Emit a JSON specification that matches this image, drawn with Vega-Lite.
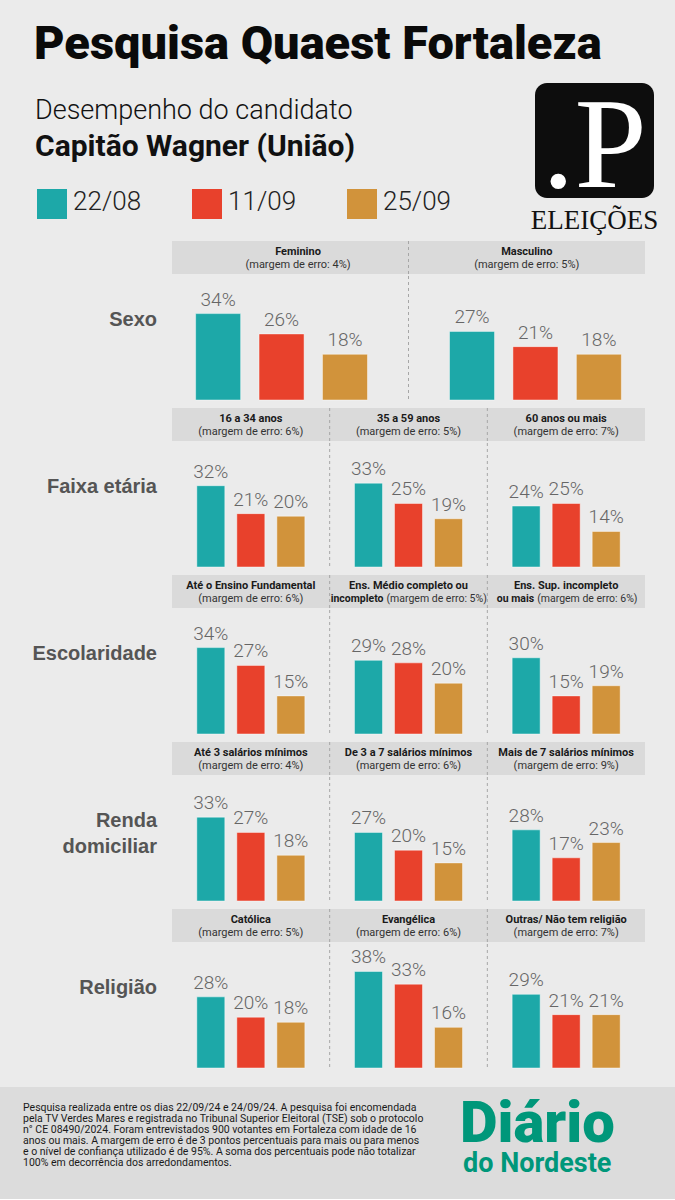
{
  "$schema": "https://vega.github.io/schema/vega-lite/v6.json",
  "background": "#ebebeb",
  "padding": {"left": 0, "top": 21, "right": 0, "bottom": 0},
  "config": {"view": {"stroke": null}, "font": "Roboto", "text": {"font": "Roboto"}},
  "title": {"text": "Pesquisa Quaest Fortaleza", "anchor": "start", "dx": 34, "fontSize": 47, "fontWeight": 900, "font": "Roboto", "color": "#0a0a0a", "offset": 14},
  "resolve": {"scale": {"xOffset": "independent"}},
  "datasets": {
    "legend": [{"data": "22/08"}, {"data": "11/09"}, {"data": "25/09"}],
    "brand": [{"logo": ".P", "nota": "Pesquisa realizada entre os dias 22/09/24 e 24/09/24. A pesquisa foi encomendada\npela TV Verdes Mares e registrada no Tribunal Superior Eleitoral (TSE) sob o protocolo\nn° CE 08490/2024. Foram entrevistados 900 votantes em Fortaleza com idade de 16\nanos ou mais. A margem de erro é de 3 pontos percentuais para mais ou para menos\ne o nível de confiança utilizado é de 95%. A soma dos percentuais pode não totalizar\n100% em decorrência dos arredondamentos.", "jornal": "Diário", "jornal2": "do Nordeste"}],
    "rows": [
      {"cat": "Sexo", "rot": "Sexo"},
      {"cat": "Faixa etária", "rot": "Faixa etária"},
      {"cat": "Escolaridade", "rot": "Escolaridade"},
      {"cat": "Renda domiciliar", "rot": "Renda\ndomiciliar"},
      {"cat": "Religião", "rot": "Religião"}
    ],
    "heads": [
      {"cat": "Sexo", "grp": "Feminino", "i": 0, "t1": "Feminino", "t2b": "", "t2": "(margem de erro: 4%)"},
      {"cat": "Sexo", "grp": "Masculino", "i": 1, "t1": "Masculino", "t2b": "", "t2": "(margem de erro: 5%)"},
      {"cat": "Faixa etária", "grp": "16 a 34 anos", "i": 0, "t1": "16 a 34 anos", "t2b": "", "t2": "(margem de erro: 6%)"},
      {"cat": "Faixa etária", "grp": "35 a 59 anos", "i": 1, "t1": "35 a 59 anos", "t2b": "", "t2": "(margem de erro: 5%)"},
      {"cat": "Faixa etária", "grp": "60 anos ou mais", "i": 2, "t1": "60 anos ou mais", "t2b": "", "t2": "(margem de erro: 7%)"},
      {"cat": "Escolaridade", "grp": "Até o Ensino Fundamental", "i": 0, "t1": "Até o Ensino Fundamental", "t2b": "", "t2": "(margem de erro: 6%)"},
      {"cat": "Escolaridade", "grp": "Ens. Médio completo ou incompleto", "i": 1, "t1": "Ens. Médio completo ou", "t2b": "incompleto", "t2": "(margem de erro: 5%)"},
      {"cat": "Escolaridade", "grp": "Ens. Sup. incompleto ou mais", "i": 2, "t1": "Ens. Sup. incompleto", "t2b": "ou mais", "t2": "(margem de erro: 6%)"},
      {"cat": "Renda domiciliar", "grp": "Até 3 salários mínimos", "i": 0, "t1": "Até 3 salários mínimos", "t2b": "", "t2": "(margem de erro: 4%)"},
      {"cat": "Renda domiciliar", "grp": "De 3 a 7 salários mínimos", "i": 1, "t1": "De 3 a 7 salários mínimos", "t2b": "", "t2": "(margem de erro: 6%)"},
      {"cat": "Renda domiciliar", "grp": "Mais de 7 salários mínimos", "i": 2, "t1": "Mais de 7 salários mínimos", "t2b": "", "t2": "(margem de erro: 9%)"},
      {"cat": "Religião", "grp": "Católica", "i": 0, "t1": "Católica", "t2b": "", "t2": "(margem de erro: 5%)"},
      {"cat": "Religião", "grp": "Evangélica", "i": 1, "t1": "Evangélica", "t2b": "", "t2": "(margem de erro: 6%)"},
      {"cat": "Religião", "grp": "Outras/ Não tem religião", "i": 2, "t1": "Outras/ Não tem religião", "t2b": "", "t2": "(margem de erro: 7%)"}
    ],
    "bars": [
      {"cat": "Sexo", "grp": "Feminino", "data": "22/08", "v": 0.34},
      {"cat": "Sexo", "grp": "Feminino", "data": "11/09", "v": 0.26},
      {"cat": "Sexo", "grp": "Feminino", "data": "25/09", "v": 0.18},
      {"cat": "Sexo", "grp": "Masculino", "data": "22/08", "v": 0.27},
      {"cat": "Sexo", "grp": "Masculino", "data": "11/09", "v": 0.21},
      {"cat": "Sexo", "grp": "Masculino", "data": "25/09", "v": 0.18},
      {"cat": "Faixa etária", "grp": "16 a 34 anos", "data": "22/08", "v": 0.32},
      {"cat": "Faixa etária", "grp": "16 a 34 anos", "data": "11/09", "v": 0.21},
      {"cat": "Faixa etária", "grp": "16 a 34 anos", "data": "25/09", "v": 0.20},
      {"cat": "Faixa etária", "grp": "35 a 59 anos", "data": "22/08", "v": 0.33},
      {"cat": "Faixa etária", "grp": "35 a 59 anos", "data": "11/09", "v": 0.25},
      {"cat": "Faixa etária", "grp": "35 a 59 anos", "data": "25/09", "v": 0.19},
      {"cat": "Faixa etária", "grp": "60 anos ou mais", "data": "22/08", "v": 0.24},
      {"cat": "Faixa etária", "grp": "60 anos ou mais", "data": "11/09", "v": 0.25},
      {"cat": "Faixa etária", "grp": "60 anos ou mais", "data": "25/09", "v": 0.14},
      {"cat": "Escolaridade", "grp": "Até o Ensino Fundamental", "data": "22/08", "v": 0.34},
      {"cat": "Escolaridade", "grp": "Até o Ensino Fundamental", "data": "11/09", "v": 0.27},
      {"cat": "Escolaridade", "grp": "Até o Ensino Fundamental", "data": "25/09", "v": 0.15},
      {"cat": "Escolaridade", "grp": "Ens. Médio completo ou incompleto", "data": "22/08", "v": 0.29},
      {"cat": "Escolaridade", "grp": "Ens. Médio completo ou incompleto", "data": "11/09", "v": 0.28},
      {"cat": "Escolaridade", "grp": "Ens. Médio completo ou incompleto", "data": "25/09", "v": 0.20},
      {"cat": "Escolaridade", "grp": "Ens. Sup. incompleto ou mais", "data": "22/08", "v": 0.30},
      {"cat": "Escolaridade", "grp": "Ens. Sup. incompleto ou mais", "data": "11/09", "v": 0.15},
      {"cat": "Escolaridade", "grp": "Ens. Sup. incompleto ou mais", "data": "25/09", "v": 0.19},
      {"cat": "Renda domiciliar", "grp": "Até 3 salários mínimos", "data": "22/08", "v": 0.33},
      {"cat": "Renda domiciliar", "grp": "Até 3 salários mínimos", "data": "11/09", "v": 0.27},
      {"cat": "Renda domiciliar", "grp": "Até 3 salários mínimos", "data": "25/09", "v": 0.18},
      {"cat": "Renda domiciliar", "grp": "De 3 a 7 salários mínimos", "data": "22/08", "v": 0.27},
      {"cat": "Renda domiciliar", "grp": "De 3 a 7 salários mínimos", "data": "11/09", "v": 0.20},
      {"cat": "Renda domiciliar", "grp": "De 3 a 7 salários mínimos", "data": "25/09", "v": 0.15},
      {"cat": "Renda domiciliar", "grp": "Mais de 7 salários mínimos", "data": "22/08", "v": 0.28},
      {"cat": "Renda domiciliar", "grp": "Mais de 7 salários mínimos", "data": "11/09", "v": 0.17},
      {"cat": "Renda domiciliar", "grp": "Mais de 7 salários mínimos", "data": "25/09", "v": 0.23},
      {"cat": "Religião", "grp": "Católica", "data": "22/08", "v": 0.28},
      {"cat": "Religião", "grp": "Católica", "data": "11/09", "v": 0.20},
      {"cat": "Religião", "grp": "Católica", "data": "25/09", "v": 0.18},
      {"cat": "Religião", "grp": "Evangélica", "data": "22/08", "v": 0.38},
      {"cat": "Religião", "grp": "Evangélica", "data": "11/09", "v": 0.33},
      {"cat": "Religião", "grp": "Evangélica", "data": "25/09", "v": 0.16},
      {"cat": "Religião", "grp": "Outras/ Não tem religião", "data": "22/08", "v": 0.29},
      {"cat": "Religião", "grp": "Outras/ Não tem religião", "data": "11/09", "v": 0.21},
      {"cat": "Religião", "grp": "Outras/ Não tem religião", "data": "25/09", "v": 0.21}
    ]
  },
  "spacing": 6,
  "vconcat": [
    {
      "hconcat": [
        {
          "width": 414, "height": 136,
          "title": {"text": "Desempenho do candidato", "subtitle": "Capitão Wagner (União)", "anchor": "start", "dx": 35, "font": "Roboto", "fontSize": 27, "fontWeight": 300, "color": "#111111", "subtitleFont": "Roboto", "subtitleFontSize": 30, "subtitleFontWeight": "bold", "subtitleColor": "#111111", "subtitlePadding": 7, "offset": -80},
          "data": {"name": "legend"},
          "layer": [
            {"mark": {"type": "square", "size": 900, "opacity": 1, "y": "height", "yOffset": -15},
             "encoding": {"x": {"field": "data", "type": "nominal", "axis": null, "scale": {"type": "band", "domain": ["22/08", "11/09", "25/09"], "paddingInner": 0.806, "paddingOuter": 0.2387}},
                          "color": {"field": "data", "type": "nominal", "scale": {"domain": ["22/08", "11/09", "25/09"], "range": ["#1da8a8", "#e8412c", "#d1933b"]}, "legend": null}}},
            {"mark": {"type": "text", "align": "left", "baseline": "middle", "dx": 6, "y": "height", "yOffset": -17, "fontSize": 26, "fontWeight": 300, "color": "#222222"},
             "encoding": {"x": {"field": "data", "type": "nominal", "axis": null, "bandPosition": 1, "scale": {"type": "band", "domain": ["22/08", "11/09", "25/09"], "paddingInner": 0.806, "paddingOuter": 0.2387}},
                          "text": {"field": "data"}}}
          ]
        },
        {
          "width": 119, "height": 115,
          "view": {"fill": "#0d0d0d", "cornerRadius": 12, "stroke": null},
          "title": {"text": "ELEIÇÕES", "orient": "bottom", "anchor": "middle", "font": "Liberation Serif", "fontSize": 27, "fontWeight": "normal", "color": "#111111", "offset": -5},
          "data": {"name": "brand"},
          "mark": {"type": "text", "font": "Liberation Serif", "fontSize": 130, "color": "#ffffff", "align": "center", "baseline": "alphabetic", "y": "height", "dy": -11},
          "encoding": {"text": {"field": "logo"}}
        }
      ],
      "spacing": 78
    },
    {
      "hconcat": [
        {
          "width": 157, "height": 157,
          "data": {"name": "rows"},
          "transform": [{"filter": "datum.cat == 'Sexo'"}],
          "mark": {"type": "text", "x": "width", "align": "right", "baseline": "middle", "lineBreak": "\n", "lineHeight": 26, "font": "Liberation Sans", "fontWeight": "bold", "fontSize": 20, "color": "#555555"},
          "encoding": {"text": {"field": "rot"}}
        },
        {
          "spacing": 0,
          "vconcat": [
            {
              "width": 473, "height": 33,
              "view": {"fill": "#dadada", "stroke": null},
              "data": {"name": "heads"},
              "transform": [{"filter": "datum.cat == 'Sexo'"}],
              "resolve": {"scale": {"x": "independent"}},
              "layer": [
                {"mark": {"type": "rule", "strokeDash": [3, 3], "color": "#a6a6a6"},
                 "encoding": {"x": {"field": "grp", "type": "nominal", "axis": null, "bandPosition": 0, "scale": {"type": "band", "domain": ["Feminino", "Masculino"], "paddingInner": 0, "paddingOuter": 0}},
                              "opacity": {"condition": {"test": "datum.i == 0", "value": 0}, "value": 1}}},
                {"encoding": {"x": {"field": "grp", "type": "nominal", "axis": null, "scale": {"type": "band", "domain": ["Feminino", "Masculino"], "paddingInner": 0, "paddingOuter": 0.034, "align": 0.75}}},
                 "layer": [
                   {"mark": {"type": "text", "fontSize": 11, "fontWeight": "bold", "baseline": "alphabetic", "dy": -3, "color": "#1a1a1a"},
                    "encoding": {"text": {"field": "t1"}}},
                   {"mark": {"type": "text", "fontSize": 11, "baseline": "alphabetic", "dy": 10, "color": "#333333"},
                    "encoding": {"text": {"field": "t2"}}}
                 ]}
              ]
            },
            {
              "width": 473, "height": 124,
              "resolve": {"scale": {"x": "independent"}},
              "layer": [
                {"data": {"name": "heads"},
                 "transform": [{"filter": "datum.cat == 'Sexo'"}],
                 "mark": {"type": "rule", "strokeDash": [3, 3], "color": "#a6a6a6"},
                 "encoding": {"x": {"field": "grp", "type": "nominal", "axis": null, "bandPosition": 0, "scale": {"type": "band", "domain": ["Feminino", "Masculino"], "paddingInner": 0, "paddingOuter": 0}},
                              "opacity": {"condition": {"test": "datum.i == 0", "value": 0}, "value": 1}}},
                {"data": {"name": "bars"},
                 "transform": [{"filter": "datum.cat == 'Sexo'"}],
                 "encoding": {
                   "x": {"field": "grp", "type": "nominal", "axis": null, "scale": {"type": "band", "domain": ["Feminino", "Masculino"], "paddingInner": 0.323, "paddingOuter": 0.093}},
                   "xOffset": {"field": "data", "type": "nominal", "scale": {"domain": ["22/08", "11/09", "25/09"], "paddingInner": 0.29, "paddingOuter": 0}},
                   "y": {"field": "v", "type": "quantitative", "axis": null, "scale": {"domain": [0, 0.488], "nice": false, "zero": true}},
                   "color": {"field": "data", "type": "nominal", "scale": {"domain": ["22/08", "11/09", "25/09"], "range": ["#1da8a8", "#e8412c", "#d1933b"]}, "legend": null}
                 },
                 "layer": [
                   {"mark": {"type": "bar", "stroke": "#ffffff", "strokeOpacity": 0.45, "strokeWidth": 1}},
                   {"mark": {"type": "text", "baseline": "alphabetic", "dy": -8, "fontSize": 19, "fontWeight": 300},
                    "encoding": {"text": {"field": "v", "format": ".0%"}, "color": {"value": "#666666"}}}
                 ]}
              ]
            }
          ]
        }
      ],
      "spacing": 15
    },
    {
      "hconcat": [
        {
          "width": 157, "height": 157,
          "data": {"name": "rows"},
          "transform": [{"filter": "datum.cat == 'Faixa etária'"}],
          "mark": {"type": "text", "x": "width", "align": "right", "baseline": "middle", "lineBreak": "\n", "lineHeight": 26, "font": "Liberation Sans", "fontWeight": "bold", "fontSize": 20, "color": "#555555"},
          "encoding": {"text": {"field": "rot"}}
        },
        {
          "spacing": 0,
          "vconcat": [
            {
              "width": 473, "height": 33,
              "view": {"fill": "#dadada", "stroke": null},
              "data": {"name": "heads"},
              "transform": [{"filter": "datum.cat == 'Faixa etária'"}],
              "layer": [
                {"mark": {"type": "rule", "strokeDash": [3, 3], "color": "#a6a6a6"},
                 "encoding": {"x": {"field": "grp", "type": "nominal", "axis": null, "bandPosition": 0, "scale": {"type": "band", "domain": ["16 a 34 anos", "35 a 59 anos", "60 anos ou mais"], "paddingInner": 0, "paddingOuter": 0}},
                              "opacity": {"condition": {"test": "datum.i == 0", "value": 0}, "value": 1}}},
                {"mark": {"type": "text", "fontSize": 11, "fontWeight": "bold", "baseline": "alphabetic", "dy": -3, "color": "#1a1a1a"},
                 "encoding": {"x": {"field": "grp", "type": "nominal", "axis": null, "scale": {"type": "band", "domain": ["16 a 34 anos", "35 a 59 anos", "60 anos ou mais"], "paddingInner": 0, "paddingOuter": 0}}, "text": {"field": "t1"}}},
                {"mark": {"type": "text", "fontSize": 11, "baseline": "alphabetic", "dy": 10, "color": "#333333"},
                 "encoding": {"x": {"field": "grp", "type": "nominal", "axis": null, "scale": {"type": "band", "domain": ["16 a 34 anos", "35 a 59 anos", "60 anos ou mais"], "paddingInner": 0, "paddingOuter": 0}}, "text": {"field": "t2"}}}
              ]
            },
            {
              "width": 473, "height": 124,
              "layer": [
                {"data": {"name": "heads"},
                 "transform": [{"filter": "datum.cat == 'Faixa etária'"}],
                 "mark": {"type": "rule", "strokeDash": [3, 3], "color": "#a6a6a6"},
                 "encoding": {"x": {"field": "grp", "type": "nominal", "axis": null, "bandPosition": 0, "scale": {"type": "band", "domain": ["16 a 34 anos", "35 a 59 anos", "60 anos ou mais"], "paddingInner": 0, "paddingOuter": 0}},
                              "opacity": {"condition": {"test": "datum.i == 0", "value": 0}, "value": 1}}},
                {"data": {"name": "bars"},
                 "transform": [{"filter": "datum.cat == 'Faixa etária'"}],
                 "encoding": {
                   "x": {"field": "grp", "type": "nominal", "axis": null, "scale": {"type": "band", "domain": ["16 a 34 anos", "35 a 59 anos", "60 anos ou mais"], "paddingInner": 0, "paddingOuter": 0}},
                   "xOffset": {"field": "data", "type": "nominal", "scale": {"domain": ["22/08", "11/09", "25/09"], "paddingInner": 0.3, "paddingOuter": 0.62}},
                   "y": {"field": "v", "type": "quantitative", "axis": null, "scale": {"domain": [0, 0.488], "nice": false, "zero": true}},
                   "color": {"field": "data", "type": "nominal", "scale": {"domain": ["22/08", "11/09", "25/09"], "range": ["#1da8a8", "#e8412c", "#d1933b"]}, "legend": null}
                 },
                 "layer": [
                   {"mark": {"type": "bar", "stroke": "#ffffff", "strokeOpacity": 0.45, "strokeWidth": 1}},
                   {"mark": {"type": "text", "baseline": "alphabetic", "dy": -8, "fontSize": 19, "fontWeight": 300},
                    "encoding": {"text": {"field": "v", "format": ".0%"}, "color": {"value": "#666666"}}}
                 ]}
              ]
            }
          ]
        }
      ],
      "spacing": 15
    },
    {
      "hconcat": [
        {
          "width": 157, "height": 157,
          "data": {"name": "rows"},
          "transform": [{"filter": "datum.cat == 'Escolaridade'"}],
          "mark": {"type": "text", "x": "width", "align": "right", "baseline": "middle", "lineBreak": "\n", "lineHeight": 26, "font": "Liberation Sans", "fontWeight": "bold", "fontSize": 20, "color": "#555555"},
          "encoding": {"text": {"field": "rot"}}
        },
        {
          "spacing": 0,
          "vconcat": [
            {
              "width": 473, "height": 33,
              "view": {"fill": "#dadada", "stroke": null},
              "data": {"name": "heads"},
              "transform": [{"filter": "datum.cat == 'Escolaridade'"}],
              "layer": [
                {"mark": {"type": "rule", "strokeDash": [3, 3], "color": "#a6a6a6"},
                 "encoding": {"x": {"field": "grp", "type": "nominal", "axis": null, "bandPosition": 0, "scale": {"type": "band", "domain": ["Até o Ensino Fundamental", "Ens. Médio completo ou incompleto", "Ens. Sup. incompleto ou mais"], "paddingInner": 0, "paddingOuter": 0}},
                              "opacity": {"condition": {"test": "datum.i == 0", "value": 0}, "value": 1}}},
                {"mark": {"type": "text", "fontSize": 11, "fontWeight": "bold", "baseline": "alphabetic", "dy": -3, "color": "#1a1a1a"},
                 "encoding": {"x": {"field": "grp", "type": "nominal", "axis": null, "scale": {"type": "band", "domain": ["Até o Ensino Fundamental", "Ens. Médio completo ou incompleto", "Ens. Sup. incompleto ou mais"], "paddingInner": 0, "paddingOuter": 0}}, "text": {"field": "t1"}}},
                {"transform": [{"filter": "datum.t2b == ''"}],
                 "mark": {"type": "text", "fontSize": 11, "baseline": "alphabetic", "dy": 10, "color": "#333333"},
                 "encoding": {"x": {"field": "grp", "type": "nominal", "axis": null, "scale": {"type": "band", "domain": ["Até o Ensino Fundamental", "Ens. Médio completo ou incompleto", "Ens. Sup. incompleto ou mais"], "paddingInner": 0, "paddingOuter": 0}}, "text": {"field": "t2"}}},
                {"transform": [{"filter": "datum.i == 1"}],
                 "encoding": {"x": {"field": "grp", "type": "nominal", "axis": null, "scale": {"type": "band", "domain": ["Até o Ensino Fundamental", "Ens. Médio completo ou incompleto", "Ens. Sup. incompleto ou mais"], "paddingInner": 0, "paddingOuter": 0}}},
                 "layer": [
                   {"mark": {"type": "text", "fontSize": 10.5, "fontWeight": "bold", "align": "right", "baseline": "alphabetic", "dy": 10, "dx": -25, "color": "#1a1a1a"}, "encoding": {"text": {"field": "t2b"}}},
                   {"mark": {"type": "text", "fontSize": 10.5, "align": "left", "baseline": "alphabetic", "dy": 10, "dx": -22, "color": "#333333"}, "encoding": {"text": {"field": "t2"}}}
                 ]},
                {"transform": [{"filter": "datum.i == 2"}],
                 "encoding": {"x": {"field": "grp", "type": "nominal", "axis": null, "scale": {"type": "band", "domain": ["Até o Ensino Fundamental", "Ens. Médio completo ou incompleto", "Ens. Sup. incompleto ou mais"], "paddingInner": 0, "paddingOuter": 0}}},
                 "layer": [
                   {"mark": {"type": "text", "fontSize": 10.5, "fontWeight": "bold", "align": "right", "baseline": "alphabetic", "dy": 10, "dx": -32, "color": "#1a1a1a"}, "encoding": {"text": {"field": "t2b"}}},
                   {"mark": {"type": "text", "fontSize": 10.5, "align": "left", "baseline": "alphabetic", "dy": 10, "dx": -29, "color": "#333333"}, "encoding": {"text": {"field": "t2"}}}
                 ]}
              ]
            },
            {
              "width": 473, "height": 124,
              "layer": [
                {"data": {"name": "heads"},
                 "transform": [{"filter": "datum.cat == 'Escolaridade'"}],
                 "mark": {"type": "rule", "strokeDash": [3, 3], "color": "#a6a6a6"},
                 "encoding": {"x": {"field": "grp", "type": "nominal", "axis": null, "bandPosition": 0, "scale": {"type": "band", "domain": ["Até o Ensino Fundamental", "Ens. Médio completo ou incompleto", "Ens. Sup. incompleto ou mais"], "paddingInner": 0, "paddingOuter": 0}},
                              "opacity": {"condition": {"test": "datum.i == 0", "value": 0}, "value": 1}}},
                {"data": {"name": "bars"},
                 "transform": [{"filter": "datum.cat == 'Escolaridade'"}],
                 "encoding": {
                   "x": {"field": "grp", "type": "nominal", "axis": null, "scale": {"type": "band", "domain": ["Até o Ensino Fundamental", "Ens. Médio completo ou incompleto", "Ens. Sup. incompleto ou mais"], "paddingInner": 0, "paddingOuter": 0}},
                   "xOffset": {"field": "data", "type": "nominal", "scale": {"domain": ["22/08", "11/09", "25/09"], "paddingInner": 0.3, "paddingOuter": 0.62}},
                   "y": {"field": "v", "type": "quantitative", "axis": null, "scale": {"domain": [0, 0.488], "nice": false, "zero": true}},
                   "color": {"field": "data", "type": "nominal", "scale": {"domain": ["22/08", "11/09", "25/09"], "range": ["#1da8a8", "#e8412c", "#d1933b"]}, "legend": null}
                 },
                 "layer": [
                   {"mark": {"type": "bar", "stroke": "#ffffff", "strokeOpacity": 0.45, "strokeWidth": 1}},
                   {"mark": {"type": "text", "baseline": "alphabetic", "dy": -8, "fontSize": 19, "fontWeight": 300},
                    "encoding": {"text": {"field": "v", "format": ".0%"}, "color": {"value": "#666666"}}}
                 ]}
              ]
            }
          ]
        }
      ],
      "spacing": 15
    },
    {
      "hconcat": [
        {
          "width": 157, "height": 157,
          "data": {"name": "rows"},
          "transform": [{"filter": "datum.cat == 'Renda domiciliar'"}],
          "mark": {"type": "text", "x": "width", "align": "right", "baseline": "middle", "lineBreak": "\n", "lineHeight": 26, "font": "Liberation Sans", "fontWeight": "bold", "fontSize": 20, "color": "#555555"},
          "encoding": {"text": {"field": "rot"}}
        },
        {
          "spacing": 0,
          "vconcat": [
            {
              "width": 473, "height": 33,
              "view": {"fill": "#dadada", "stroke": null},
              "data": {"name": "heads"},
              "transform": [{"filter": "datum.cat == 'Renda domiciliar'"}],
              "layer": [
                {"mark": {"type": "rule", "strokeDash": [3, 3], "color": "#a6a6a6"},
                 "encoding": {"x": {"field": "grp", "type": "nominal", "axis": null, "bandPosition": 0, "scale": {"type": "band", "domain": ["Até 3 salários mínimos", "De 3 a 7 salários mínimos", "Mais de 7 salários mínimos"], "paddingInner": 0, "paddingOuter": 0}},
                              "opacity": {"condition": {"test": "datum.i == 0", "value": 0}, "value": 1}}},
                {"mark": {"type": "text", "fontSize": 11, "fontWeight": "bold", "baseline": "alphabetic", "dy": -3, "color": "#1a1a1a"},
                 "encoding": {"x": {"field": "grp", "type": "nominal", "axis": null, "scale": {"type": "band", "domain": ["Até 3 salários mínimos", "De 3 a 7 salários mínimos", "Mais de 7 salários mínimos"], "paddingInner": 0, "paddingOuter": 0}}, "text": {"field": "t1"}}},
                {"mark": {"type": "text", "fontSize": 11, "baseline": "alphabetic", "dy": 10, "color": "#333333"},
                 "encoding": {"x": {"field": "grp", "type": "nominal", "axis": null, "scale": {"type": "band", "domain": ["Até 3 salários mínimos", "De 3 a 7 salários mínimos", "Mais de 7 salários mínimos"], "paddingInner": 0, "paddingOuter": 0}}, "text": {"field": "t2"}}}
              ]
            },
            {
              "width": 473, "height": 124,
              "layer": [
                {"data": {"name": "heads"},
                 "transform": [{"filter": "datum.cat == 'Renda domiciliar'"}],
                 "mark": {"type": "rule", "strokeDash": [3, 3], "color": "#a6a6a6"},
                 "encoding": {"x": {"field": "grp", "type": "nominal", "axis": null, "bandPosition": 0, "scale": {"type": "band", "domain": ["Até 3 salários mínimos", "De 3 a 7 salários mínimos", "Mais de 7 salários mínimos"], "paddingInner": 0, "paddingOuter": 0}},
                              "opacity": {"condition": {"test": "datum.i == 0", "value": 0}, "value": 1}}},
                {"data": {"name": "bars"},
                 "transform": [{"filter": "datum.cat == 'Renda domiciliar'"}],
                 "encoding": {
                   "x": {"field": "grp", "type": "nominal", "axis": null, "scale": {"type": "band", "domain": ["Até 3 salários mínimos", "De 3 a 7 salários mínimos", "Mais de 7 salários mínimos"], "paddingInner": 0, "paddingOuter": 0}},
                   "xOffset": {"field": "data", "type": "nominal", "scale": {"domain": ["22/08", "11/09", "25/09"], "paddingInner": 0.3, "paddingOuter": 0.62}},
                   "y": {"field": "v", "type": "quantitative", "axis": null, "scale": {"domain": [0, 0.488], "nice": false, "zero": true}},
                   "color": {"field": "data", "type": "nominal", "scale": {"domain": ["22/08", "11/09", "25/09"], "range": ["#1da8a8", "#e8412c", "#d1933b"]}, "legend": null}
                 },
                 "layer": [
                   {"mark": {"type": "bar", "stroke": "#ffffff", "strokeOpacity": 0.45, "strokeWidth": 1}},
                   {"mark": {"type": "text", "baseline": "alphabetic", "dy": -8, "fontSize": 19, "fontWeight": 300},
                    "encoding": {"text": {"field": "v", "format": ".0%"}, "color": {"value": "#666666"}}}
                 ]}
              ]
            }
          ]
        }
      ],
      "spacing": 15
    },
    {
      "spacing": 18,
      "vconcat": [
        {
          "hconcat": [
            {
              "width": 157, "height": 157,
              "data": {"name": "rows"},
              "transform": [{"filter": "datum.cat == 'Religião'"}],
              "mark": {"type": "text", "x": "width", "align": "right", "baseline": "middle", "lineBreak": "\n", "lineHeight": 26, "font": "Liberation Sans", "fontWeight": "bold", "fontSize": 20, "color": "#555555"},
              "encoding": {"text": {"field": "rot"}}
            },
            {
              "spacing": 0,
              "vconcat": [
                {
                  "width": 473, "height": 33,
                  "view": {"fill": "#dadada", "stroke": null},
                  "data": {"name": "heads"},
                  "transform": [{"filter": "datum.cat == 'Religião'"}],
                  "layer": [
                    {"mark": {"type": "rule", "strokeDash": [3, 3], "color": "#a6a6a6"},
                     "encoding": {"x": {"field": "grp", "type": "nominal", "axis": null, "bandPosition": 0, "scale": {"type": "band", "domain": ["Católica", "Evangélica", "Outras/ Não tem religião"], "paddingInner": 0, "paddingOuter": 0}},
                                  "opacity": {"condition": {"test": "datum.i == 0", "value": 0}, "value": 1}}},
                    {"mark": {"type": "text", "fontSize": 11, "fontWeight": "bold", "baseline": "alphabetic", "dy": -3, "color": "#1a1a1a"},
                     "encoding": {"x": {"field": "grp", "type": "nominal", "axis": null, "scale": {"type": "band", "domain": ["Católica", "Evangélica", "Outras/ Não tem religião"], "paddingInner": 0, "paddingOuter": 0}}, "text": {"field": "t1"}}},
                    {"mark": {"type": "text", "fontSize": 11, "baseline": "alphabetic", "dy": 10, "color": "#333333"},
                     "encoding": {"x": {"field": "grp", "type": "nominal", "axis": null, "scale": {"type": "band", "domain": ["Católica", "Evangélica", "Outras/ Não tem religião"], "paddingInner": 0, "paddingOuter": 0}}, "text": {"field": "t2"}}}
                  ]
                },
                {
                  "width": 473, "height": 124,
                  "layer": [
                    {"data": {"name": "heads"},
                     "transform": [{"filter": "datum.cat == 'Religião'"}],
                     "mark": {"type": "rule", "strokeDash": [3, 3], "color": "#a6a6a6"},
                     "encoding": {"x": {"field": "grp", "type": "nominal", "axis": null, "bandPosition": 0, "scale": {"type": "band", "domain": ["Católica", "Evangélica", "Outras/ Não tem religião"], "paddingInner": 0, "paddingOuter": 0}},
                                  "opacity": {"condition": {"test": "datum.i == 0", "value": 0}, "value": 1}}},
                    {"data": {"name": "bars"},
                     "transform": [{"filter": "datum.cat == 'Religião'"}],
                     "encoding": {
                       "x": {"field": "grp", "type": "nominal", "axis": null, "scale": {"type": "band", "domain": ["Católica", "Evangélica", "Outras/ Não tem religião"], "paddingInner": 0, "paddingOuter": 0}},
                       "xOffset": {"field": "data", "type": "nominal", "scale": {"domain": ["22/08", "11/09", "25/09"], "paddingInner": 0.3, "paddingOuter": 0.62}},
                       "y": {"field": "v", "type": "quantitative", "axis": null, "scale": {"domain": [0, 0.488], "nice": false, "zero": true}},
                       "color": {"field": "data", "type": "nominal", "scale": {"domain": ["22/08", "11/09", "25/09"], "range": ["#1da8a8", "#e8412c", "#d1933b"]}, "legend": null}
                     },
                     "layer": [
                       {"mark": {"type": "bar", "stroke": "#ffffff", "strokeOpacity": 0.45, "strokeWidth": 1}},
                       {"mark": {"type": "text", "baseline": "alphabetic", "dy": -8, "fontSize": 19, "fontWeight": 300},
                        "encoding": {"text": {"field": "v", "format": ".0%"}, "color": {"value": "#666666"}}}
                     ]}
                  ]
                }
              ]
            }
          ],
          "spacing": 15
        },
        {
          "width": 675, "height": 112,
          "view": {"fill": "#dcdcdc", "stroke": null},
          "data": {"name": "brand"},
          "layer": [
            {"mark": {"type": "text", "align": "left", "baseline": "alphabetic", "x": 23, "y": 24, "lineBreak": "\n", "lineHeight": 11, "font": "Roboto", "fontSize": 10.5, "color": "#1a1a1a"},
             "encoding": {"text": {"field": "nota"}}},
            {"mark": {"type": "text", "align": "left", "baseline": "alphabetic", "x": 460, "y": 55, "font": "Roboto", "fontWeight": 900, "fontSize": 58, "letterSpacing": 3, "color": "#00977a"},
             "encoding": {"text": {"field": "jornal"}}},
            {"mark": {"type": "text", "align": "left", "baseline": "alphabetic", "x": 463, "y": 85, "font": "Roboto", "fontWeight": "bold", "fontSize": 27, "color": "#00977a"},
             "encoding": {"text": {"field": "jornal2"}}}
          ]
        }
      ]
    }
  ]
}
